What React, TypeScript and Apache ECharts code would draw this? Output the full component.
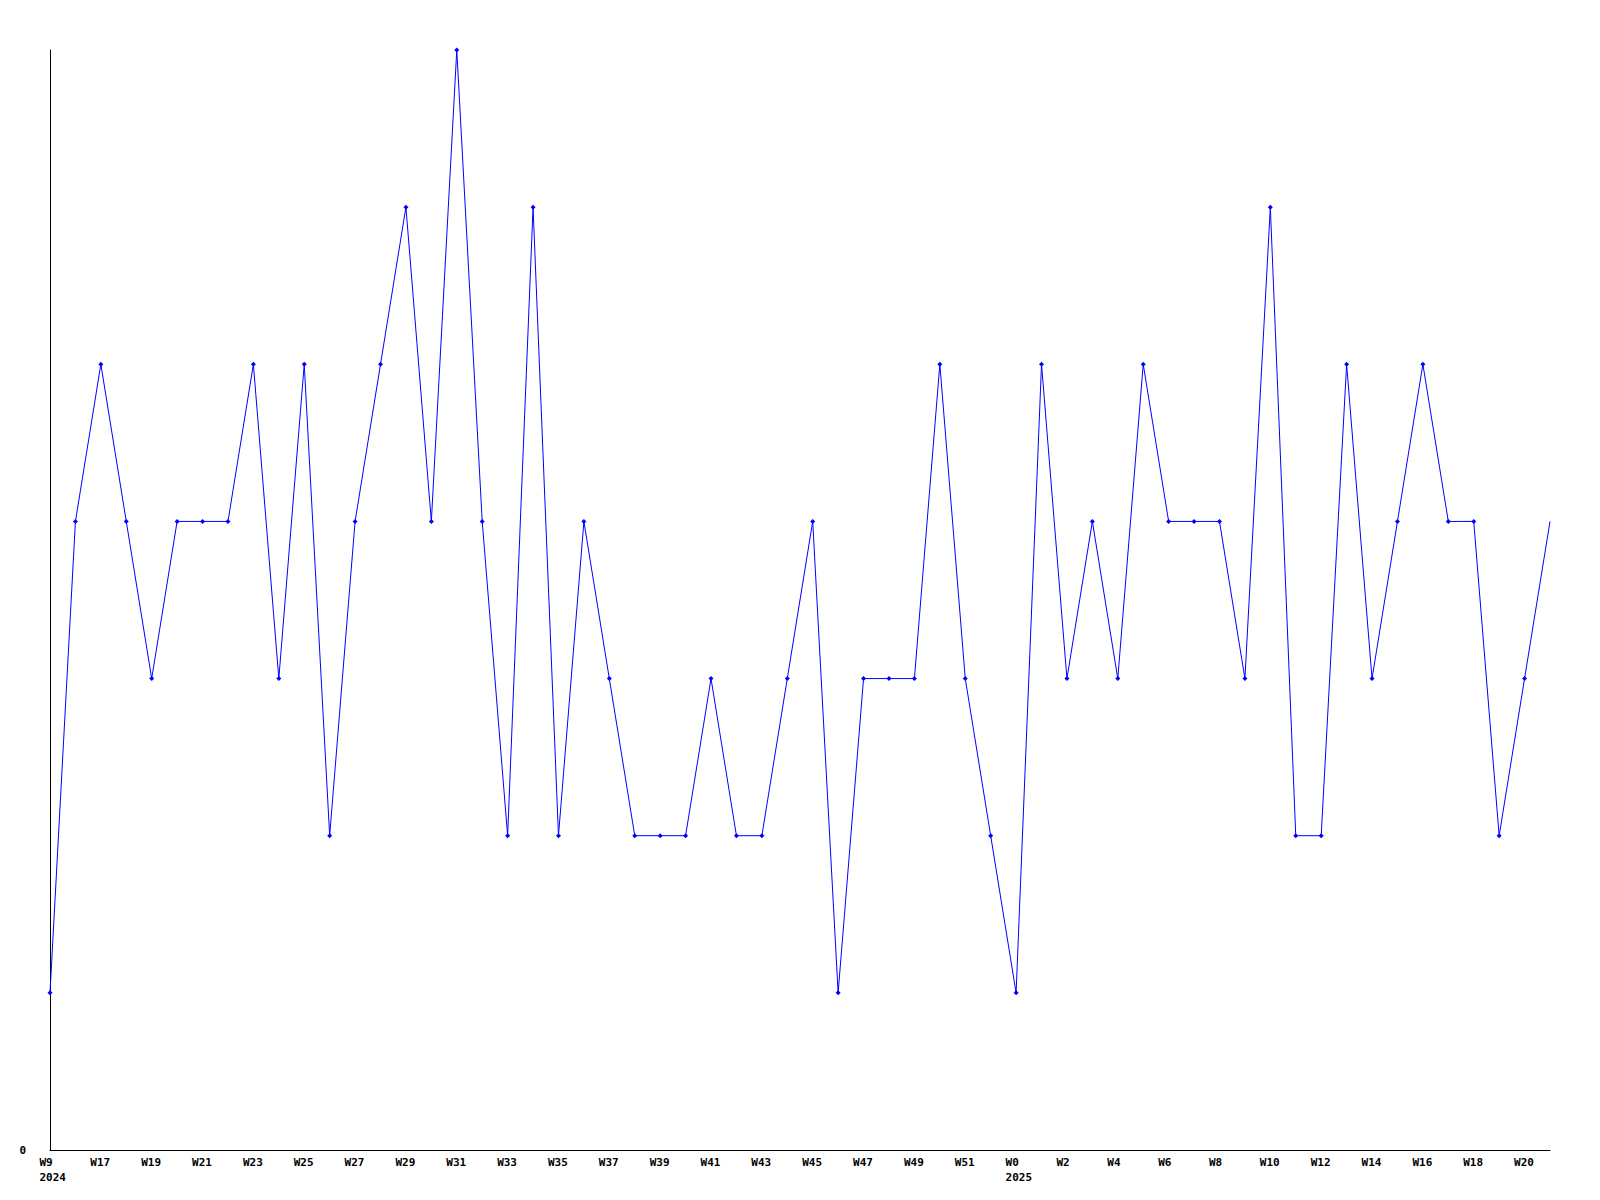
import React, { useEffect, useRef } from "react";
import * as echarts from "echarts";

const weeks = [
  "W9", "W16", "W17", "W18", "W19", "W20", "W21", "W22", "W23", "W24",
  "W25", "W26", "W27", "W28", "W29", "W30", "W31", "W32", "W33", "W34",
  "W35", "W36", "W37", "W38", "W39", "W40", "W41", "W42", "W43", "W44",
  "W45", "W46", "W47", "W48", "W49", "W50", "W51", "W52", "W0", "W1",
  "W2", "W3", "W4", "W5", "W6", "W7", "W8", "W9", "W10", "W11",
  "W12", "W13", "W14", "W15", "W16", "W17", "W18", "W19", "W20", "W21",
];
const years: Record<number, string> = { 0: "2024", 38: "2025" };
const values = [
  1, 4, 5, 4, 3, 4, 4, 4, 5, 3,
  5, 2, 4, 5, 6, 4, 7, 4, 2, 6,
  2, 4, 3, 2, 2, 2, 3, 2, 2, 3,
  4, 1, 3, 3, 3, 5, 3, 2, 1, 5,
  3, 4, 3, 5, 4, 4, 4, 3, 6, 2,
  2, 5, 3, 4, 5, 4, 4, 2, 3, 4,
];
const yMin = 0;
const yMax = 7;

export default function App() {
  const ref = useRef<HTMLDivElement>(null);
  useEffect(() => {
    const chart = echarts.init(ref.current!, null, { renderer: "svg" });
    const font = "DejaVu Sans Mono";
    const lab = {
      width: 21,
      align: "left",
      color: "#000",
      fontFamily: font,
      fontWeight: "bold",
      fontSize: 11,
      lineHeight: 15,
    };
    chart.setOption({
      animation: false,
      backgroundColor: "#ffffff",
      grid: { left: 50, right: 50, top: 50, bottom: 50, containLabel: false },
      xAxis: {
        type: "category",
        data: weeks,
        boundaryGap: false,
        axisLine: { show: true, lineStyle: { color: "#000", width: 1 } },
        axisTick: { show: false },
        splitLine: { show: false },
        axisLabel: {
          interval: 1,
          margin: 5,
          align: "center",
          color: "#000",
          fontFamily: font,
          fontWeight: "bold",
          fontSize: 11,
          lineHeight: 15,
          rich: { a: lab },
          formatter: (v: string, i: number) =>
            years[i] ? "{a|" + v + "}\n{a|" + years[i] + "}" : "{a|" + v + "}",
        },
      },
      yAxis: {
        type: "value",
        min: yMin,
        max: yMax,
        interval: yMax,
        axisLine: { show: true, lineStyle: { color: "#000", width: 1 } },
        axisTick: { show: false },
        splitLine: { show: false },
        axisLabel: {
          margin: 24,
          color: "#000",
          fontFamily: font,
          fontWeight: "bold",
          fontSize: 11,
          formatter: (v: number) => (v === 0 ? "0" : ""),
        },
      },
      series: [
        {
          type: "line",
          data: values.map((v, i) =>
            i === values.length - 1 ? { value: v, symbol: "none" } : v
          ),
          symbol: "diamond",
          symbolSize: 5,
          showAllSymbol: true,
          lineStyle: { color: "#0000ff", width: 1 },
          itemStyle: { color: "#0000ff" },
        },
      ],
    });
    return () => chart.dispose();
  }, []);
  return (
    <div
      ref={ref}
      style={{ position: "absolute", left: 0, top: 0, width: 1600, height: 1200 }}
    />
  );
}
